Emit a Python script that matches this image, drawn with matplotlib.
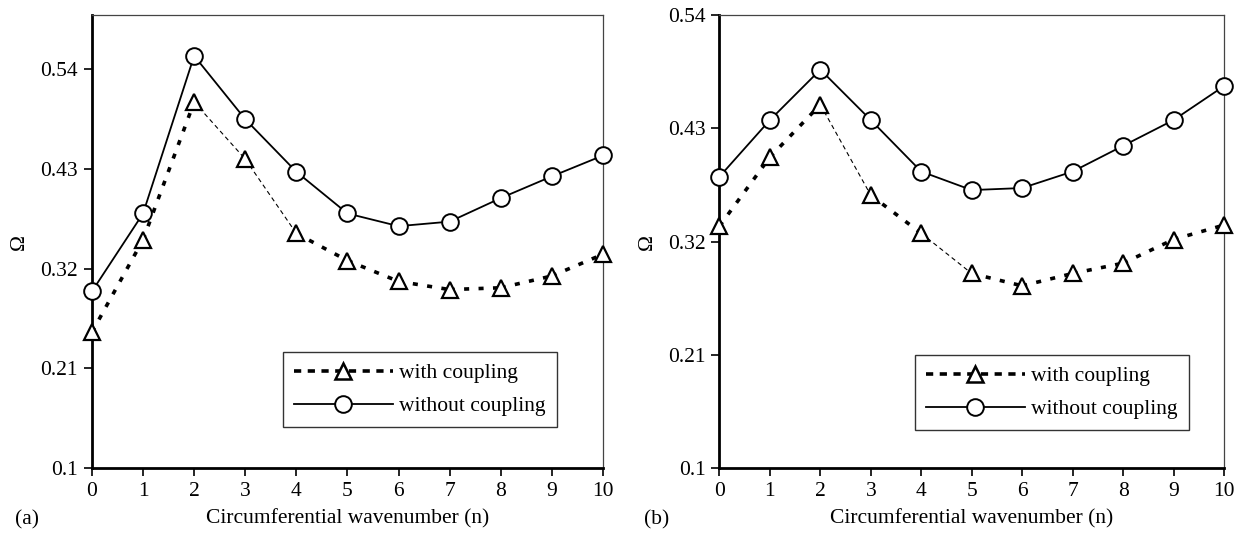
import matplotlib
matplotlib.use("Agg")
import matplotlib.pyplot as plt
from matplotlib.lines import Line2D

plt.rcParams["font.family"] = ["Liberation Serif", "DejaVu Serif"]
plt.rcParams["font.size"] = 15.5

# %% data
n = list(range(11))

with_a = [0.250, 0.352, 0.504, 0.441, 0.359, 0.329, 0.306, 0.297, 0.299, 0.312, 0.336]
without_a = [0.295, 0.381, 0.555, 0.485, 0.427, 0.381, 0.367, 0.372, 0.398, 0.422, 0.445]

with_b = [0.335, 0.402, 0.453, 0.365, 0.328, 0.289, 0.277, 0.289, 0.299, 0.322, 0.336]
without_b = [0.383, 0.438, 0.487, 0.438, 0.388, 0.370, 0.372, 0.388, 0.413, 0.438, 0.471]

yticks = [0.1, 0.21, 0.32, 0.43, 0.54]
ytick_labels = ["0.1", "0.21", "0.32", "0.43", "0.54"]

# segments of the coupled curve that are drawn thin in the original
thin_a = [2, 3]
thin_b = [2, 4]

panels = [
    ("(a)", with_a, without_a, thin_a, 0.60, [0.0735, 0.130, 0.4085, 0.842], (283, 355, 554, 427)),
    ("(b)", with_b, without_b, thin_b, 0.54, [0.5751, 0.130, 0.4033, 0.842], (915, 360, 1186, 430)),
]

fig = plt.figure(figsize=(12.51, 5.38), dpi=100)

for tag, wc, woc, thin, ytop, rect, box in panels:
    ax = fig.add_axes(rect)

    # coupled curve, segment by segment
    for i in range(len(n) - 1):
        lw = 0.8 if i in thin else 2.6
        dashes = (4, 3) if i in thin else (1.4, 2.6)
        ax.plot(n[i:i + 2], wc[i:i + 2], color="black", lw=lw, dashes=dashes,
                solid_capstyle="butt", zorder=2)
    ax.plot(n, wc, ls="none", marker="^", ms=12, mfc="white", mec="black",
            mew=1.6, zorder=3, clip_on=False)

    ax.plot(n, woc, color="black", lw=1.3, marker="o", ms=12, mfc="white",
            mec="black", mew=1.4, zorder=3, clip_on=False)

    ax.set_xlim(0, 10)
    ax.set_ylim(0.1, ytop)
    ax.set_xticks(n)
    ax.set_yticks(yticks)
    ax.set_yticklabels(ytick_labels)
    ax.tick_params(direction="out", length=6, width=1.2, pad=4, labelsize=15.5)

    for side in ("left", "bottom"):
        ax.spines[side].set_linewidth(2.0)
    for side in ("top", "right"):
        ax.spines[side].set_linewidth(0.9)
        ax.spines[side].set_color("#444444")

    ax.set_xlabel("Circumferential wavenumber (n)", fontsize=15.5, labelpad=6)
    ax.set_ylabel("Ω", fontsize=15.5, labelpad=8)
    ax.text(-0.15, -0.115, tag, transform=ax.transAxes, fontsize=15.5,
            ha="left", va="center")

    handles = [
        Line2D([], [], color="black", lw=2.6, dashes=(2, 1.8), marker="^", ms=12,
               mfc="white", mec="black", mew=1.8),
        Line2D([], [], color="black", lw=1.3, marker="o", ms=12, mfc="white",
               mec="black", mew=1.4),
    ]
    x0, y0, x1, y1 = box
    lx = (x0 - rect[0] * 1251) / (rect[2] * 1251)
    ly = (538 - y1 - rect[1] * 538) / (rect[3] * 538)
    leg = ax.legend(handles, ["with coupling", "without coupling"],
                    loc="lower left", bbox_to_anchor=(lx, ly),
                    borderaxespad=0, frameon=True, fancybox=False,
                    handlelength=4.6, handletextpad=0.3, borderpad=0.5,
                    labelspacing=0.6, fontsize=15.5)
    leg.get_frame().set_edgecolor("black")
    leg.get_frame().set_linewidth(1.0)

fig.savefig("out.png", dpi=100)
